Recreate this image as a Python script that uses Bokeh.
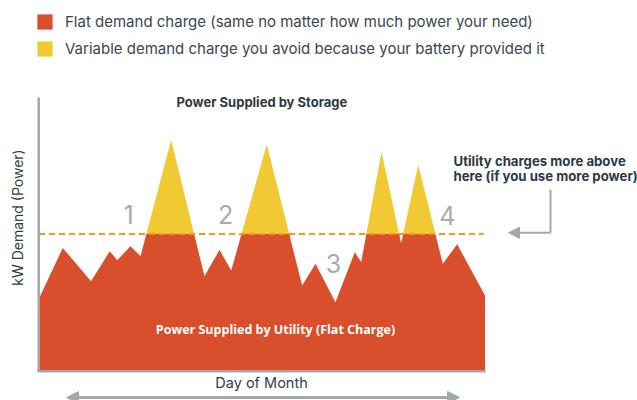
import numpy as np
from bokeh.plotting import figure
from bokeh.models import Range1d, Label, Legend, LegendItem, Arrow, NormalHead, ColumnDataSource
from bokeh.core.properties import value
from bokeh.embed import file_html
from bokeh.resources import INLINE

# ---------------- data ----------------
days = [0.0, 1.6, 3.5, 4.76, 5.26, 6.15, 6.83, 8.89, 11.13, 12.14, 12.93, 15.32,
        17.70, 18.60, 19.94, 21.24, 21.67, 23.04, 24.36, 25.51, 27.16, 28.13, 30.0]
demand_kw = [26.4, 44.9, 32.7, 43.7, 40.4, 45.5, 41.9, 84.5, 34.5, 44.2, 36.6, 82.8,
             31.1, 39.1, 25.0, 43.3, 39.7, 80.0, 46.6, 75.3, 39.1, 46.2, 27.5]
threshold_kw = 50
legend_labels = ["Flat demand charge (same no matter how much power your need)",
                 "Variable demand charge you avoid because your battery provided it"]
peak_labels = ["1", "2", "3", "4"]
peak_label_days = [6.02, 12.55, 19.81, 27.46]
peak_label_kw = [57.1, 57.1, 39.3, 56.8]

# ---------------- colours / fonts ----------------
RED = "#d94f2c"
YELLOW = "#f0c933"
ORANGE = "#f7941d"
GRAY = "#a3a8ad"
DARK = "#2d3943"
TEXT = "#3b4650"
FONT = "Inter"

W, H = 637, 400
PX_PER_DAY = 446 / 30.0
X0_S = 38.5
PX_PER_KW = 2.73
Y0_S = 370.0


def dx(xs):
    return (xs - X0_S) / PX_PER_DAY


def dy(ys):
    return (Y0_S - ys) / PX_PER_KW


def sx(xs):
    return xs


def sy(ys):
    return H - ys


# insert threshold crossings so the two areas meet exactly on the line
xa, ya = [days[0]], [demand_kw[0]]
for i in range(1, len(days)):
    x0, y0, x1, y1 = days[i - 1], demand_kw[i - 1], days[i], demand_kw[i]
    if (y0 - threshold_kw) * (y1 - threshold_kw) < 0:
        t = (threshold_kw - y0) / (y1 - y0)
        xa.append(x0 + t * (x1 - x0))
        ya.append(threshold_kw)
    xa.append(x1)
    ya.append(y1)
xa = np.array(xa)
ya = np.array(ya)
src = ColumnDataSource(dict(x=xa, zero=np.zeros_like(xa),
                            low=np.minimum(ya, threshold_kw),
                            thr=np.full_like(xa, threshold_kw),
                            high=np.maximum(ya, threshold_kw)))

p = figure(width=W, height=H, output_backend="svg", toolbar_location=None,
           x_range=Range1d(dx(0), dx(W)), y_range=Range1d(dy(H), dy(0)),
           x_axis_location=None, y_axis_location=None,
           min_border=0, min_border_left=0, min_border_right=0,
           min_border_top=0, min_border_bottom=0)
p.grid.visible = False
p.outline_line_color = None
p.background_fill_color = "white"

r_red = p.varea(x="x", y1="zero", y2="low", source=src, fill_color=RED)
r_yel = p.varea(x="x", y1="thr", y2="high", source=src, fill_color=YELLOW)

# axes lines
p.line([dx(38.2), dx(38.2)], [dy(97), dy(371.5)], line_color=GRAY, line_width=2.5)
p.line([dx(37), dx(485)], [dy(370.8), dy(370.8)], line_color=GRAY, line_width=2.5)

# threshold dashed line
p.line([days[0], dx(483)], [threshold_kw, threshold_kw], line_color=ORANGE,
       line_width=2, line_dash="6 4")

# peak numbers
p.text(x=peak_label_days, y=peak_label_kw, text=peak_labels, text_align="center",
       text_baseline="middle", text_font=value(FONT), text_font_size="25px",
       text_color="#a6abb0")

# annotation arrow
p.line([dx(550), dx(550)], [dy(189), dy(232.3)], line_color=GRAY, line_width=2)
p.add_layout(Arrow(x_start=dx(550), y_start=dy(232.3), x_end=dx(508), y_end=dy(232.3),
                   line_color=GRAY, line_width=2,
                   end=NormalHead(size=11, fill_color=GRAY, line_color=GRAY)))

# bottom double arrow
p.add_layout(Arrow(x_start=dx(66), y_start=dy(397), x_end=dx(459), y_end=dy(397),
                   line_color=GRAY, line_width=3,
                   start=NormalHead(size=12, fill_color=GRAY, line_color=GRAY),
                   end=NormalHead(size=12, fill_color=GRAY, line_color=GRAY)))

# texts
def lab(text, xs, ys, size, color=DARK, bold=False, align="left", angle=0, font=FONT):
    p.add_layout(Label(x=sx(xs), y=sy(ys), x_units="screen", y_units="screen",
                       text=text, text_font=font, text_font_size=size,
                       text_color=color, text_font_style="bold" if bold else "normal",
                       text_align=align, text_baseline="middle", angle=angle))

lab("Power Supplied by Storage", 176, 101.5, "13px", bold=True)
lab("Utility charges more above", 453, 160.7, "13.2px", bold=True)
lab("here (if you use more power)", 453, 175.7, "13.2px", bold=True)
lab("Power Supplied by Utility (Flat Charge)", 275, 329.3, "12.5px", color="white",
    bold=True, align="center", font="Open Sans")
lab("kW Demand (Power)", 17, 217, "14px", color="#333e48", align="center", angle=np.pi / 2)
lab("Day of Month", 261, 382, "14.5px", color="#333e48", align="center")

legend = Legend(items=[LegendItem(label=legend_labels[0], renderers=[r_red]),
                       LegendItem(label=legend_labels[1], renderers=[r_yel])],
                location=(sx(35), sy(58)), orientation="vertical",
                padding=0, margin=0, spacing=8, glyph_width=19, glyph_height=19,
                label_standoff=11, label_height=19, label_text_font=FONT,
                label_text_font_size="15px", label_text_color=TEXT,
                border_line_alpha=0, background_fill_alpha=0)
p.add_layout(legend)

open("out.html", "w").write(file_html(p, INLINE))
